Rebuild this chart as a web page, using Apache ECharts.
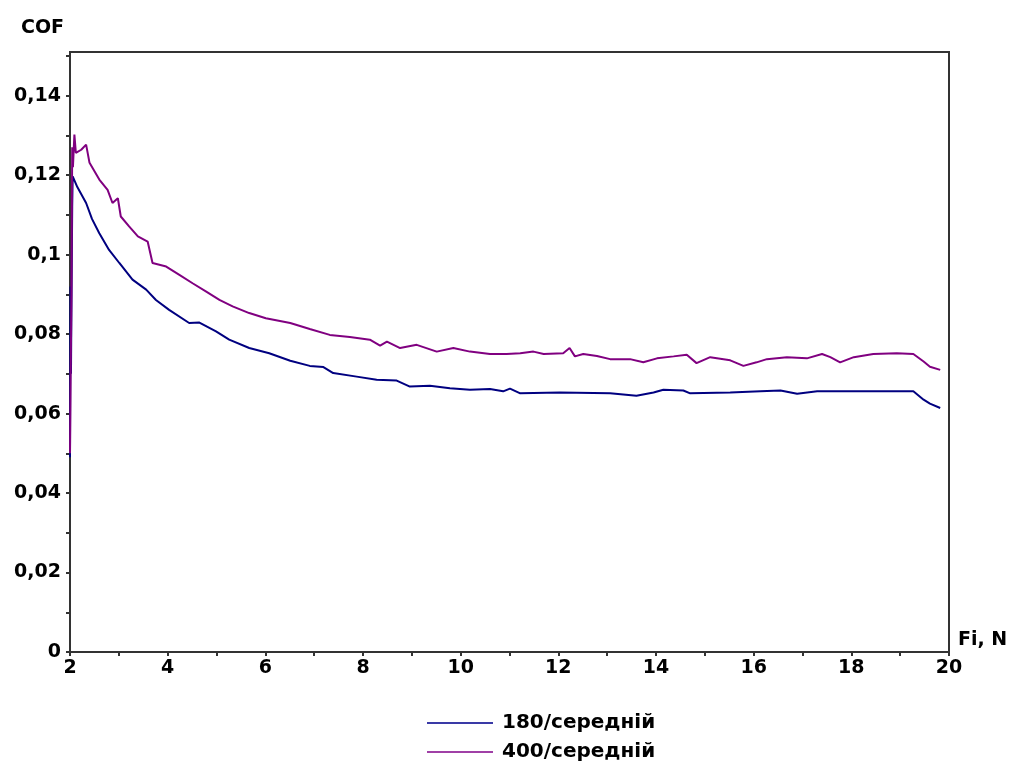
<!DOCTYPE html>
<html>
<head>
<meta charset="utf-8">
<script src="https://cdn.jsdelivr.net/npm/echarts@6/dist/echarts.min.js"></script>
<style>
  html, body { margin: 0; padding: 0; background: #fff; }
  #chart { width: 1016px; height: 766px; }
</style>
</head>
<body>
<div id="chart"></div>
<script>
// Fi, N values and COF for 180/середній
var fi180 = [2.0, 2.01, 2.02, 2.03, 2.045, 2.055, 2.15, 2.33, 2.45, 2.6, 2.8, 3.01, 3.28, 3.56, 3.76,
  4.03, 4.44, 4.65, 4.99, 5.26, 5.67, 6.08, 6.51, 6.91, 7.19, 7.39, 7.87, 8.28, 8.69, 8.96, 9.37,
  9.78, 10.19, 10.6, 10.87, 11.01, 11.22, 12.03, 13.06, 13.6, 13.95, 14.15, 14.56, 14.7, 15.52,
  16.14, 16.55, 16.89, 17.3, 19.27, 19.48, 19.61, 19.82];
var cof180 = [0.049, 0.092, 0.07, 0.088, 0.112, 0.1197, 0.117, 0.113, 0.109, 0.1054, 0.1012, 0.0979,
  0.0937, 0.0912, 0.0886, 0.0861, 0.0828, 0.0829, 0.0807, 0.0786, 0.0765, 0.0752, 0.0733, 0.072,
  0.0717, 0.0702, 0.0693, 0.0685, 0.0683, 0.0668, 0.067, 0.0664, 0.066, 0.0662, 0.0656, 0.0663,
  0.0651, 0.0653, 0.0651, 0.0645, 0.0653, 0.066, 0.0658, 0.0651, 0.0653, 0.0656, 0.0658, 0.065,
  0.0656, 0.0656, 0.0635, 0.0625, 0.0614];

// Fi, N values and COF for 400/середній
var fi400 = [2.0, 2.015, 2.03, 2.045, 2.06, 2.09, 2.12, 2.23, 2.33, 2.4, 2.6, 2.77, 2.87, 2.98, 3.04,
  3.21, 3.39, 3.59, 3.69, 3.97, 4.24, 4.51, 4.79, 5.06, 5.33, 5.67, 6.01, 6.51, 6.91, 7.32, 7.73,
  8.14, 8.35, 8.49, 8.76, 9.1, 9.51, 9.85, 10.19, 10.6, 10.94, 11.22, 11.49, 11.7, 12.1, 12.23,
  12.34, 12.51, 12.79, 13.06, 13.47, 13.74, 14.02, 14.36, 14.63, 14.83, 15.11, 15.52, 15.79, 16.06,
  16.27, 16.68, 17.09, 17.4, 17.57, 17.77, 18.05, 18.45, 18.93, 19.27, 19.48, 19.61, 19.82];
var cof400 = [0.05, 0.072, 0.09, 0.127, 0.122, 0.1302, 0.1256, 0.1264, 0.1277, 0.1231, 0.1189, 0.1163,
  0.113, 0.1142, 0.1096, 0.1071, 0.1046, 0.1033, 0.0979, 0.097, 0.0949, 0.0928, 0.0907, 0.0886,
  0.087, 0.0853, 0.084, 0.0828, 0.0813, 0.0798, 0.0793, 0.0786, 0.0771, 0.0781, 0.0765, 0.0773,
  0.0756, 0.0765, 0.0756, 0.075, 0.075, 0.0752, 0.0756, 0.075, 0.0752, 0.0765, 0.0744, 0.075,
  0.0745, 0.0737, 0.0737, 0.0729, 0.0739, 0.0744, 0.0748, 0.0727, 0.0742, 0.0734, 0.072, 0.0729,
  0.0737, 0.0742, 0.0739, 0.075, 0.0742, 0.0729, 0.0742, 0.075, 0.0752, 0.075, 0.0731, 0.0718, 0.071];

var seriesNames = ['180/середній', '400/середній'];
var seriesColors = ['#000080', '#800080'];

function pairs(xs, ys) {
  var out = [];
  for (var i = 0; i < xs.length; i++) out.push([xs[i], ys[i]]);
  return out;
}

var font = 'DejaVu Sans, Verdana, sans-serif';
var txt = { fontFamily: font, fontWeight: 'bold', fontSize: 19, color: '#000' };

// one legend per row, so the two items stack like the original
function legendRow(name, color, top) {
  return {
    orient: 'vertical',
    left: 422,
    top: top,
    icon: 'rect',
    itemWidth: 66,
    itemHeight: 2,
    data: [name],
    itemStyle: { color: color },
    textStyle: Object.assign({ padding: [0, 0, 0, 4] }, txt, { fontSize: 20 })
  };
}

var chart = echarts.init(document.getElementById('chart'), null, { renderer: 'canvas' });

var option = {
  animation: false,
  backgroundColor: '#fff',
  title: {
    text: 'COF',
    left: 16,
    top: 14,
    textStyle: txt
  },
  legend: [
    legendRow(seriesNames[0], '#3a3aa6', 708),
    legendRow(seriesNames[1], '#a040a6', 737)
  ],
  grid: {
    left: 70,
    right: 67,
    top: 52,
    bottom: 114,
    show: true,
    borderColor: '#333',
    borderWidth: 2
  },
  xAxis: {
    type: 'value',
    min: 2,
    max: 20,
    interval: 1,
    name: 'Fi, N',
    nameLocation: 'end',
    nameGap: 9,
    nameTextStyle: Object.assign({ verticalAlign: 'bottom', padding: [0, 0, 2, 0] }, txt),
    splitLine: { show: false },
    axisLine: { lineStyle: { color: '#333', width: 2 } },
    axisTick: { length: 4, lineStyle: { color: '#333', width: 2 } },
    axisLabel: Object.assign({
      margin: 7,
      formatter: function (v) { return (Math.round(v) % 2 === 0) ? String(Math.round(v)) : ''; }
    }, txt)
  },
  yAxis: {
    type: 'value',
    min: 0,
    max: 0.151,
    interval: 0.01,
    splitLine: { show: false },
    axisLine: { lineStyle: { color: '#333', width: 2 } },
    axisTick: { length: 4, lineStyle: { color: '#333', width: 2 } },
    axisLabel: Object.assign({
      margin: 9,
      showMaxLabel: false,
      formatter: function (v) {
        var h = v * 100;
        var r = Math.round(h);
        if (Math.abs(h - r) > 1e-6 || r % 2 !== 0) return '';
        return String(+v.toFixed(2)).replace('.', ',');
      }
    }, txt)
  },
  series: [
    {
      name: seriesNames[0],
      type: 'line',
      symbol: 'none',
      color: seriesColors[0],
      lineStyle: { width: 2, color: seriesColors[0] },
      data: pairs(fi180, cof180)
    },
    {
      name: seriesNames[1],
      type: 'line',
      symbol: 'none',
      color: seriesColors[1],
      lineStyle: { width: 2, color: seriesColors[1] },
      data: pairs(fi400, cof400)
    }
  ]
};
chart.setOption(option);
</script>
</body>
</html>
